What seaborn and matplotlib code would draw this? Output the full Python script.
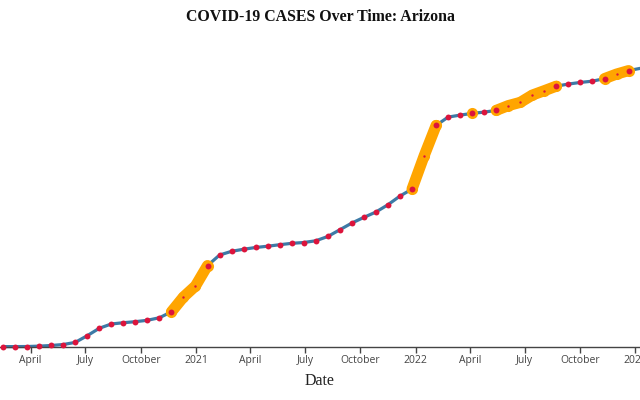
import matplotlib
matplotlib.use("Agg")
import matplotlib.pyplot as plt
import matplotlib.dates as mdates
from matplotlib.ticker import FuncFormatter
import seaborn as sns
import pandas as pd

# cumulative confirmed cases, one reading every 20 days from 15 Feb 2020, then the last day shown
dates = list(pd.date_range("2020-02-15", periods=53, freq="20D")) + [pd.Timestamp("2023-01-09")]
cases = [
    1, 5, 700, 4000, 9500, 18000, 36000, 94000, 158000, 195000,
    206000, 215000, 227000, 249000, 300000, 428000, 523000, 699000, 790000, 822000,
    840000, 855000, 866000, 879000, 891000, 898000, 913000, 950000, 1008000, 1066000,
    1115000, 1161000, 1224000, 1299000, 1359000, 1644000, 1908000, 1980000, 1997000, 2012000,
    2023000, 2038000, 2079000, 2107000, 2170000, 2208000, 2247000, 2265000, 2279000, 2290000,
    2312000, 2351000, 2381000, 2400000,
]

# periods flagged as surges (highlighted in orange)
surge_start = ["2020-11-21", "2021-12-26", "2022-04-05", "2022-05-15", "2022-11-11"]
surge_end = ["2021-01-20", "2022-02-04", "2022-04-05", "2022-08-23", "2022-12-21"]

df = pd.DataFrame({"date": dates, "cases": cases})

sns.set_style("white")
fig = plt.figure(figsize=(6.4, 4), dpi=100)
ax = fig.add_axes([0, 0.1335, 1, 0.7665])

sns.lineplot(data=df, x="date", y="cases", color="#3d7aa6", linewidth=2.3,
             ax=ax, zorder=2, clip_on=False)

inside = pd.Series(False, index=df.index)
for start, end in zip(surge_start, surge_end):
    start, end = pd.Timestamp(start), pd.Timestamp(end)
    seg = df[(df.date >= start) & (df.date <= end)]
    sns.lineplot(data=seg, x="date", y="cases", color="orange", linewidth=8,
                 marker="o", markersize=8, markeredgewidth=0,
                 solid_capstyle="round", ax=ax, zorder=3)
    inside |= (df.date > start) & (df.date < end)

pts = df.iloc[:-1]
flag = inside.iloc[:-1]
sns.scatterplot(data=pts[~flag], x="date", y="cases", color="crimson", s=18,
                linewidth=0, ax=ax, zorder=4, clip_on=False)
sns.scatterplot(data=pts[flag], x="date", y="cases", color="crimson", s=3,
                linewidth=0, ax=ax, zorder=4)

ax.set_xlim(pd.Timestamp("2020-02-10"), pd.Timestamp("2023-01-09"))
ax.set_ylim(0, 2.645e6)
ax.yaxis.set_visible(False)
for side in ["left", "top", "right"]:
    ax.spines[side].set_visible(False)
ax.spines["bottom"].set_color("#444444")
ax.spines["bottom"].set_linewidth(1)

ax.xaxis.set_major_locator(mdates.MonthLocator(bymonth=[1, 4, 7, 10]))
ax.xaxis.set_major_formatter(FuncFormatter(
    lambda v, p: str(mdates.num2date(v).year) if mdates.num2date(v).month == 1
    else mdates.num2date(v).strftime("%B")))
ax.tick_params(axis="x", length=4, width=1, color="#444444", labelsize=7.5,
               labelcolor="#444444", pad=2, bottom=True)
for lab in ax.get_xticklabels():
    lab.set_family("Open Sans")
ax.set_xlabel("")
ax.set_ylabel("")

fig.text(0.5, 0.957, "COVID-19 CASES Over Time: Arizona", ha="center", va="center",
         fontsize=11.4, fontweight="bold", family="Liberation Serif", color="#111111")
fig.text(0.5, 0.047, "Date", ha="center", va="center", fontsize=11.5,
         family="Liberation Serif", color="#222222")

fig.savefig("out.png", dpi=100)
